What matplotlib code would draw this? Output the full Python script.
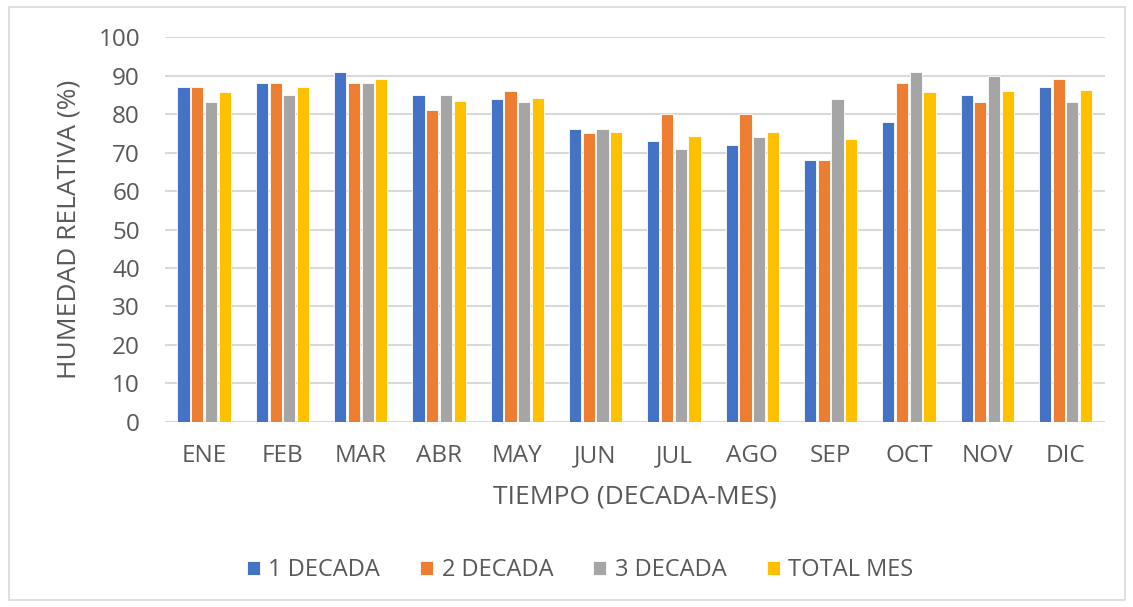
import numpy as np
import matplotlib.pyplot as plt
from matplotlib.patches import Rectangle

plt.rcParams['font.family'] = ['Open Sans', 'DejaVu Sans']

months = ['ENE', 'FEB', 'MAR', 'ABR', 'MAY', 'JUN', 'JUL', 'AGO', 'SEP', 'OCT', 'NOV', 'DIC']
dec1 = [87, 88, 91, 85, 84, 76, 73, 72, 68, 78, 85, 87]
dec2 = [87, 88, 88, 81, 86, 75, 80, 80, 68, 88, 83, 89]
dec3 = [83, 85, 88, 85, 83, 76, 71, 74, 84, 91, 90, 83]
total = [85.7, 87, 89, 83.4, 84.2, 75.4, 74.4, 75.2, 73.4, 85.6, 85.9, 86.3]
series_names = ['1 DECADA', '2 DECADA', '3 DECADA', 'TOTAL MES']
colors = ['#4472c4', '#ed7d31', '#a5a5a5', '#ffc000']

txt = '#595959'
fig = plt.figure(figsize=(11.33, 6.07), dpi=100)
ax = fig.add_axes([0.1456, 0.3048, 0.8294, 0.6342])

x = np.arange(len(months))
slot = 0.175
w = 0.155
for i, (vals, name, c) in enumerate(zip([dec1, dec2, dec3, total], series_names, colors)):
    ax.bar(x + (i - 1.5) * slot, vals, w, color=c, label=name,
           edgecolor='white', linewidth=0.6, zorder=3)

ax.set_xlim(-0.5, 11.5)
ax.set_ylim(0, 100)
ax.set_yticks(range(0, 101, 10))
ax.set_xticks(x)
ax.set_xticklabels(months)
ax.grid(axis='y', color='#d9d9d9', linewidth=1.5, zorder=0)
for s in ax.spines.values():
    s.set_visible(False)
ax.tick_params(length=0, labelsize=17.5, colors=txt)
ax.tick_params(axis='x', pad=16)
ax.tick_params(axis='y', pad=18)
ax.set_ylabel('HUMEDAD RELATIVA (%)', fontsize=19, color=txt, va='center')
ax.yaxis.set_label_coords(-0.102, 0.5)
ax.set_xlabel('TIEMPO (DECADA-MES)', fontsize=19, color=txt, labelpad=12)

fig.legend(loc='center', bbox_to_anchor=(0.512, 0.061), ncol=4, frameon=False,
           fontsize=17, labelcolor=txt, handlelength=0.55, handleheight=0.55,
           handletextpad=0.35, columnspacing=1.7)

fig.patches.append(Rectangle((0.008, 0.012), 0.985, 0.976, transform=fig.transFigure,
                             fill=False, edgecolor='#d9d9d9', linewidth=1.2))

fig.savefig('out.png')
